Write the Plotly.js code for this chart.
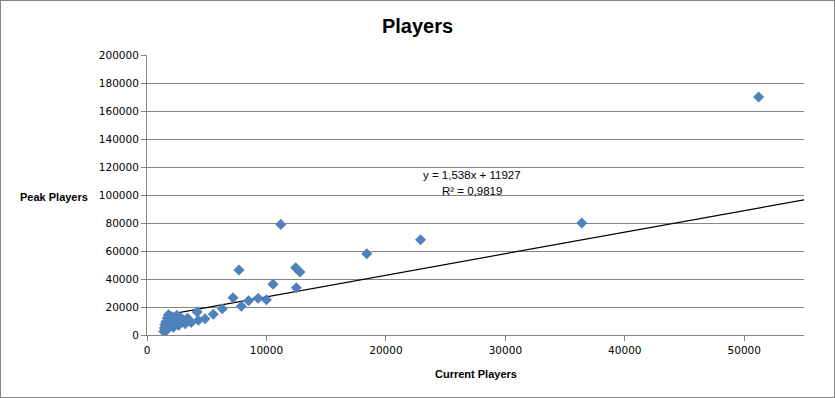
<!DOCTYPE html>
<html>
<head>
<meta charset="utf-8">
<script src="https://cdn.plot.ly/plotly-3.0.1.min.js"></script>
<style>
  html, body { margin: 0; padding: 0; background: #fff; }
  #wrap { position: relative; width: 835px; height: 398px; }
  #chart { position: absolute; left: 0; top: 0; width: 835px; height: 398px; }
  #frame { position: absolute; left: 0; top: 0; width: 833px; height: 396px; border: 1px solid #868686; pointer-events: none; }
</style>
</head>
<body>
<div id="wrap"><div id="chart"></div><div id="frame"></div></div>
<script>
// Current players (x) and peak players (y)
const currentPlayers = [
  51200, 36400, 22900, 18400, 11200, 7700, 12450, 12800, 10550, 12500,
  7200, 7900, 8500, 9300, 10000, 6300, 5550, 4850, 4200, 4300,
  3700, 3400, 3200, 2950, 2800, 2650, 2500, 2400, 2300, 2200,
  2100, 2000, 1900, 1800, 1750, 1700, 1600, 1550, 1500, 1450,
  1400, 1650, 1850, 2050, 2350, 2600, 3000
];
const peakPlayers = [
  170000, 80000, 68000, 58000, 79000, 46400, 48000, 45000, 36200, 33700,
  26600, 20600, 24500, 26200, 25200, 18800, 14800, 11600, 16500, 10500,
  9000, 12000, 8000, 10000, 12500, 7000, 14000, 9000, 11000, 5500,
  13000, 8000, 10500, 14500, 6500, 12000, 9500, 4000, 7500, 5000,
  2500, 3500, 6000, 11500, 7500, 9500, 11000
];
const trendSlope = 1.538;
const trendIntercept = 11927;
const trendText = ["y = 1,538x + 11927", "R² = 0,9819"];
const xTicks = [0, 10000, 20000, 30000, 40000, 50000];
const yTicks = [0, 20000, 40000, 60000, 80000, 100000, 120000, 140000, 160000, 180000, 200000];

const xMaxAxis = 55000;
const trendX = [Math.min(...currentPlayers), xMaxAxis];
const trendY = trendX.map(v => trendSlope * v + trendIntercept);

const grid = '#868686';
const tickFont = { family: 'DejaVu Sans, Verdana, sans-serif', size: 10.5, color: '#000' };

const data = [
  {
    type: 'scatter', mode: 'lines', x: trendX, y: trendY,
    line: { color: '#000', width: 1.2 }, hoverinfo: 'skip'
  },
  {
    type: 'scatter', mode: 'markers', x: currentPlayers, y: peakPlayers,
    marker: { symbol: 'diamond', size: 8.5, color: '#4F81BD', line: { width: 0 } }
  }
];

const layout = {
  width: 835, height: 398,
  margin: { l: 147, r: 31, t: 55, b: 63 },
  paper_bgcolor: '#fff', plot_bgcolor: '#fff',
  showlegend: false,
  title: {
    text: '<b>Players</b>',
    font: { family: 'Liberation Sans, Arial, sans-serif', size: 20, color: '#000' },
    x: 0.5, xanchor: 'center', y: 0.935, yanchor: 'middle'
  },
  xaxis: {
    range: [0, xMaxAxis], tickvals: xTicks, ticktext: xTicks.map(String),
    showgrid: false, zeroline: false,
    showline: true, linecolor: grid, linewidth: 1,
    ticks: 'outside', ticklen: 5, tickcolor: grid,
    tickfont: tickFont, fixedrange: true
  },
  yaxis: {
    range: [0, 200000], tickvals: yTicks, ticktext: yTicks.map(String),
    showgrid: true, gridcolor: grid, gridwidth: 1, zeroline: false,
    showline: true, linecolor: grid, linewidth: 1,
    ticks: 'outside', ticklen: 5, tickcolor: grid,
    tickfont: tickFont, fixedrange: true
  },
  annotations: [
    {
      text: '<b>Peak Players</b>', xref: 'paper', yref: 'paper',
      x: (53.5 - 147) / 657, y: (335 - 197) / 280, xanchor: 'center', yanchor: 'middle', showarrow: false,
      font: { family: 'Liberation Sans, Arial, sans-serif', size: 11, color: '#000' }
    },
    {
      text: '<b>Current Players</b>', xref: 'paper', yref: 'paper',
      x: 0.5, y: -0.14, xanchor: 'center', yanchor: 'middle', showarrow: false,
      font: { family: 'Liberation Sans, Arial, sans-serif', size: 11, color: '#000' }
    },
    {
      text: trendText[0], xref: 'paper', yref: 'paper',
      x: (472 - 147) / 657, y: (335 - 175) / 280, xanchor: 'center', yanchor: 'middle', showarrow: false,
      font: { family: 'Liberation Sans, Arial, sans-serif', size: 11.5, color: '#000' }
    },
    {
      text: trendText[1], xref: 'paper', yref: 'paper',
      x: (472 - 147) / 657, y: (335 - 191) / 280, xanchor: 'center', yanchor: 'middle', showarrow: false,
      font: { family: 'Liberation Sans, Arial, sans-serif', size: 11.5, color: '#000' }
    }
  ]
};

Plotly.newPlot('chart', data, layout, { staticPlot: true, displayModeBar: false });
</script>
</body>
</html>
